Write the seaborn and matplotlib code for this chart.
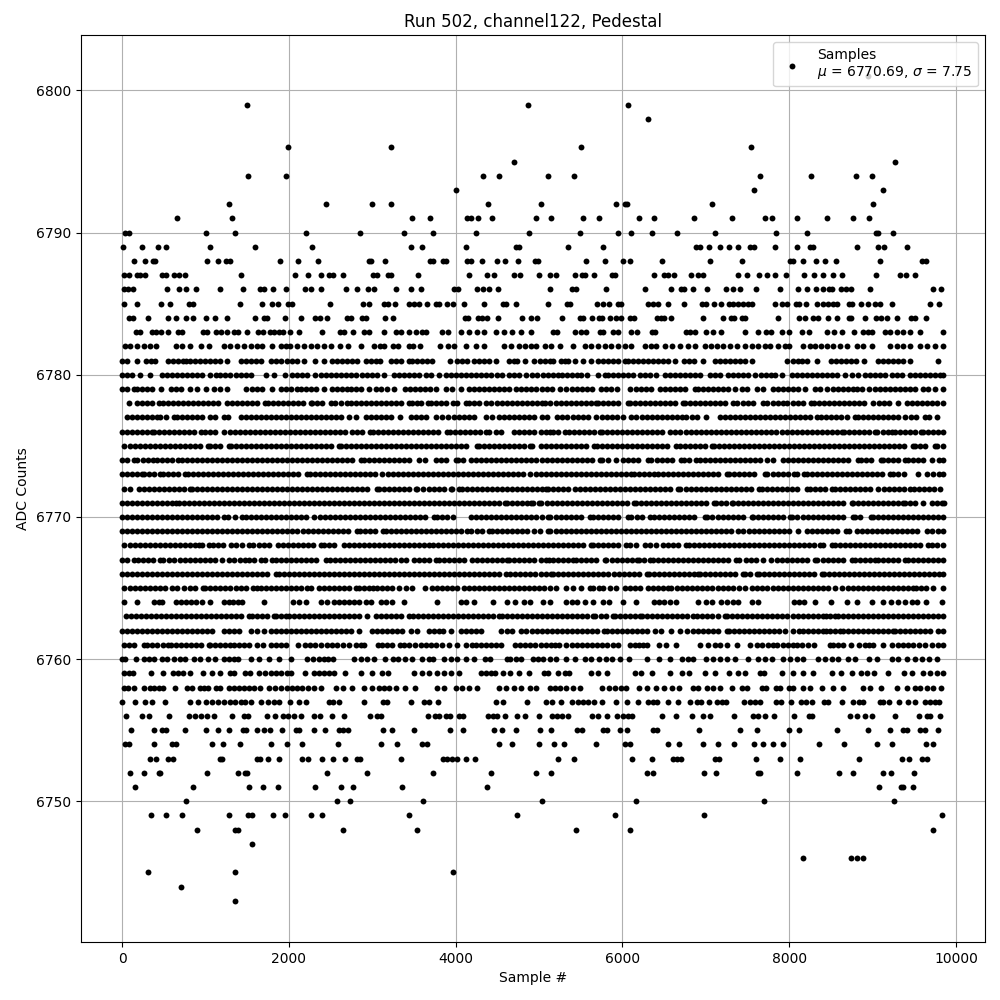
import matplotlib
matplotlib.use("Agg")
import matplotlib.pyplot as plt
import pandas as pd
import seaborn as sns

# sample numbers, one list per ADC level
s_6743 = [1352]
s_6744 = [704]
s_6745 = [308, 1352, 3968]
s_6746 = [8168, 8744, 8816, 8888]
s_6747 = [1556]
s_6748 = [896, 1352, 1388, 2648, 3536, 5444, 6092, 9728]
s_6749 = [344, 524, 716, 1280, 1508, 1556, 1808, 1952, 2264, 2396, 3440, 4736, 5912, 6980, 9836]
s_6750 = [764, 2576, 2732, 3608, 5036, 6164, 7700, 9260]
s_6751 = [152, 848, 1520, 1688, 1868, 2312, 2624, 2768, 3356, 4376, 9080, 9344, 9368, 9488]
s_6752 = [92, 260, 440, 460, 1016, 1388, 1472, 1500, 2456, 2936, 3728, 4424, 4964, 5144, 6292, 6368, 6980, 7124, 7628, 7652, 8096, 8600, 8768, 9128, 9224, 9500]
s_6753 = [332, 404, 548, 608, 1172, 1196, 1616, 1652, 1748, 1880, 2156, 2228, 2396, 2528, 2672, 2816, 2852, 3344, 3848, 3900, 3960, 4020, 4124, 4232, 5228, 5420, 6116, 6356, 6608, 6656, 6704, 7112, 7160, 7604, 7892, 8132, 8840, 9356, 9440, 9596, 9656]
s_6754 = [32, 80, 380, 596, 644, 1076, 1208, 1412, 1784, 1976, 2156, 2588, 3104, 3296, 3596, 3656, 4520, 4676, 5000, 5180, 5300, 5684, 6032, 6092, 6548, 6680, 6968, 7148, 7340, 7580, 7688, 7808, 7928, 8360, 8660, 9056, 9236, 9644, 9728]
s_6755 = [104, 380, 476, 524, 752, 1004, 1148, 1280, 1448, 1484, 1616, 1700, 1772, 1916, 2084, 2120, 2300, 2432, 2600, 2648, 2708, 3128, 3236, 3500, 3932, 4088, 4460, 4556, 4724, 5012, 5144, 5456, 5516, 5768, 5816, 5972, 6056, 6368, 6416, 6920, 7412, 7616, 8000, 8120, 8576, 8948, 9212, 9368, 9416, 9572, 9632, 9788]
s_6756 = [44, 236, 320, 560, 800, 872, 944, 1016, 1100, 1316, 1460, 1508, 1732, 1832, 1928, 1988, 2060, 2140, 2300, 2372, 2516, 2660, 2972, 3056, 3104, 3668, 3752, 3800, 3884, 3932, 4040, 4088, 4388, 4448, 4496, 4592, 4736, 4832, 5000, 5156, 5216, 5276, 5348, 5636, 5708, 5820, 5936, 6008, 6068, 6116, 6476, 6644, 6836, 6968, 7052, 7340, 7568, 7628, 7712, 7820, 8060, 8240, 8276, 8732, 8816, 8912, 8996, 9272, 9560, 9656, 9692, 9812]
s_6757 = [0, 152, 272, 356, 512, 812, 908, 1004, 1076, 1148, 1220, 1292, 1352, 1424, 1472, 1544, 1664, 1748, 1820, 1880, 2012, 2120, 2204, 2480, 2528, 2600, 2900, 3128, 3176, 3464, 3620, 3680, 3788, 4484, 4568, 4856, 5084, 5156, 5264, 5396, 5468, 5528, 5588, 5660, 5756, 5924, 6056, 6188, 6308, 6368, 6416, 6548, 6668, 6812, 6896, 6944, 7040, 7136, 7196, 7244, 7460, 7532, 7592, 7652, 7844, 7904, 8024, 8144, 8204, 8276, 8420, 8468, 8636, 8768, 8840, 8888, 9092, 9128, 9200, 9312, 9428, 9512, 9632, 9692, 9752, 9800]
s_6758 = [20, 68, 140, 260, 332, 380, 440, 488, 632, 776, 836, 932, 980, 1028, 1124, 1172, 1280, 1340, 1400, 1460, 1520, 1580, 1652, 1760, 1832, 1900, 1980, 2040, 2100, 2160, 2228, 2300, 2380, 2560, 2652, 2760, 2900, 3000, 3080, 3140, 3200, 3284, 3392, 3512, 3780, 3860, 4000, 4080, 4160, 4260, 4520, 4600, 4700, 4780, 4888, 4968, 5128, 5188, 5256, 5324, 5408, 5492, 5756, 5840, 5912, 5984, 6044, 6200, 6296, 6404, 6500, 6592, 6680, 6848, 6908, 7016, 7088, 7172, 7316, 7436, 7488, 7676, 7724, 7844, 7892, 8000, 8048, 8168, 8248, 8392, 8528, 8648, 8888, 8968, 9104, 9296, 9408, 9508, 9568, 9648, 9728, 9816]
s_6759 = [20, 80, 128, 344, 488, 608, 668, 732, 812, 968, 1076, 1172, 1292, 1340, 1472, 1532, 1640, 1712, 1780, 1840, 1900, 1980, 2028, 2192, 2300, 2360, 2420, 2480, 2540, 2672, 2864, 3000, 3116, 3188, 3500, 3600, 3680, 3780, 3860, 3940, 4040, 4300, 4360, 4420, 4472, 4568, 4652, 4760, 4880, 5060, 5108, 5228, 5312, 5360, 5624, 5708, 5816, 6152, 6228, 6356, 6572, 6716, 6800, 6992, 7108, 7280, 7388, 7472, 7652, 7700, 7916, 8048, 8168, 8288, 8516, 8624, 8756, 8856, 8928, 9020, 9188, 9380, 9468, 9608, 9688, 9768, 9840]
s_6760 = [0, 40, 164, 260, 320, 380, 480, 540, 620, 692, 752, 860, 940, 1028, 1112, 1220, 1280, 1340, 1388, 1540, 1640, 1760, 1880, 2020, 2212, 2288, 2360, 2420, 2468, 2528, 2780, 2860, 2940, 3020, 3152, 3248, 3308, 3392, 3472, 3596, 3680, 3728, 3860, 3940, 4020, 4120, 4220, 4352, 4412, 4612, 4652, 4724, 4784, 4928, 4988, 5048, 5128, 5200, 5328, 5428, 5548, 5628, 5720, 5808, 5876, 5968, 6080, 6296, 6436, 6572, 6716, 6788, 6848, 7008, 7088, 7168, 7248, 7348, 7504, 7628, 7708, 7788, 7928, 8008, 8088, 8160, 8348, 8428, 8508, 8588, 8708, 8792, 8960, 9056, 9228, 9308, 9408, 9508, 9588, 9680, 9776]
s_6761 = [28, 88, 148, 260, 300, 360, 420, 490, 548, 588, 650, 710, 770, 830, 890, 950, 1040, 1060, 1120, 1180, 1240, 1300, 1340, 1400, 1460, 1520, 1612, 1692, 1788, 1850, 1910, 1960, 2108, 2188, 2250, 2310, 2380, 2452, 2520, 2580, 2650, 2720, 2800, 2860, 2900, 3068, 3120, 3180, 3240, 3332, 3380, 3440, 3508, 3580, 3640, 3700, 3770, 3840, 3920, 4020, 4120, 4200, 4240, 4300, 4360, 4420, 4480, 4548, 4708, 4770, 4830, 4890, 4950, 5020, 5080, 5140, 5190, 5240, 5328, 5390, 5450, 5510, 5570, 5630, 5690, 5750, 5810, 5888, 5948, 6088, 6150, 6200, 6248, 6296, 6440, 6528, 6648, 6928, 7028, 7108, 7170, 7248, 7368, 7528, 7608, 7670, 7740, 7800, 7856, 7920, 7980, 8048, 8088, 8150, 8220, 8296, 8488, 8528, 8588, 8650, 8736, 8840, 8908, 8960, 9008, 9120, 9236, 9300, 9360, 9420, 9490, 9556, 9628, 9708, 9788, 9850]
s_6762 = [0, 60, 120, 180, 240, 300, 360, 420, 480, 540, 600, 660, 720, 780, 840, 900, 960, 1020, 1080, 1220, 1280, 1340, 1400, 1548, 1620, 1700, 1788, 1850, 1910, 1970, 2030, 2090, 2150, 2210, 2270, 2330, 2390, 2450, 2510, 2570, 2630, 2690, 2750, 2840, 3000, 3060, 3120, 3180, 3240, 3300, 3360, 3460, 3540, 3680, 3740, 3800, 3852, 3940, 4060, 4120, 4180, 4240, 4308, 4548, 4620, 4680, 4780, 4840, 4920, 4980, 5030, 5090, 5150, 5210, 5270, 5330, 5390, 5450, 5510, 5570, 5630, 5690, 5776, 5816, 5880, 5940, 6000, 6060, 6120, 6180, 6240, 6300, 6388, 6468, 6588, 6696, 6770, 6848, 6908, 6970, 7030, 7090, 7150, 7248, 7280, 7336, 7400, 7460, 7520, 7580, 7640, 7700, 7760, 7820, 7880, 7948, 8048, 8120, 8160, 8220, 8280, 8340, 8408, 8440, 8488, 8550, 8608, 8648, 8710, 8770, 8830, 8890, 8950, 9010, 9070, 9130, 9190, 9248, 9268, 9330, 9390, 9450, 9510, 9570, 9630, 9690, 9788, 9848]
s_6763 = [52, 110, 170, 230, 290, 350, 410, 470, 530, 590, 650, 710, 770, 830, 890, 950, 1010, 1070, 1130, 1190, 1250, 1310, 1370, 1430, 1520, 1560, 1620, 1680, 1740, 1820, 1840, 1900, 1960, 2000, 2060, 2120, 2180, 2240, 2300, 2360, 2420, 2480, 2540, 2600, 2660, 2720, 2780, 2840, 2940, 3040, 3108, 3170, 3230, 3290, 3350, 3440, 3492, 3550, 3610, 3670, 3730, 3790, 3850, 3910, 3970, 4030, 4090, 4150, 4210, 4270, 4330, 4390, 4450, 4520, 4560, 4620, 4680, 4740, 4800, 4860, 4920, 4980, 5040, 5100, 5160, 5220, 5280, 5340, 5400, 5460, 5520, 5580, 5648, 5676, 5740, 5800, 5888, 5908, 5970, 6030, 6090, 6150, 6208, 6240, 6300, 6360, 6420, 6480, 6540, 6600, 6660, 6720, 6780, 6848, 6900, 6960, 7020, 7080, 7140, 7228, 7248, 7310, 7370, 7430, 7490, 7550, 7610, 7670, 7730, 7790, 7850, 7910, 7970, 8040, 8100, 8160, 8220, 8280, 8340, 8408, 8440, 8490, 8548, 8588, 8650, 8710, 8770, 8830, 8890, 8950, 9010, 9070, 9130, 9190, 9250, 9310, 9370, 9430, 9490, 9550, 9610, 9670, 9730, 9790, 9850]
s_6764 = [20, 180, 380, 440, 480, 652, 710, 770, 830, 890, 960, 1052, 1220, 1280, 1332, 1390, 1440, 1700, 2052, 2120, 2208, 2388, 2460, 2540, 2600, 2660, 2720, 2780, 2840, 2920, 2988, 3100, 3170, 3240, 3380, 3780, 4060, 4120, 4220, 4448, 4620, 4708, 4820, 4892, 5048, 5128, 5328, 5390, 5450, 5548, 5648, 5768, 5840, 6008, 6168, 6376, 6440, 6500, 6570, 6648, 6908, 7008, 7080, 7176, 7256, 7320, 7388, 7548, 7628, 8060, 8120, 8176, 8312, 8496, 8696, 8808, 8988, 9120, 9216, 9308, 9388, 9468, 9528, 9636, 9828]
s_6765 = [28, 90, 150, 210, 270, 330, 390, 450, 510, 600, 660, 748, 810, 870, 972, 1000, 1060, 1120, 1180, 1240, 1300, 1360, 1420, 1480, 1572, 1612, 1670, 1730, 1790, 1850, 1910, 1970, 2030, 2090, 2150, 2220, 2260, 2360, 2420, 2480, 2540, 2600, 2660, 2720, 2800, 2840, 2900, 2960, 3012, 3060, 3120, 3180, 3240, 3320, 3400, 3480, 3628, 3720, 3772, 3840, 3900, 3960, 4020, 4100, 4160, 4220, 4280, 4340, 4400, 4460, 4520, 4580, 4640, 4700, 4760, 4820, 4880, 4940, 5000, 5060, 5130, 5200, 5320, 5408, 5508, 5608, 5648, 5720, 5768, 5856, 5920, 6028, 6088, 6150, 6208, 6308, 6370, 6430, 6490, 6548, 6588, 6650, 6710, 6770, 6830, 6890, 6950, 7010, 7070, 7148, 7208, 7270, 7330, 7400, 7468, 7548, 7608, 7668, 7736, 7800, 7860, 7920, 7980, 8048, 8100, 8160, 8228, 8280, 8340, 8400, 8470, 8548, 8636, 8708, 8770, 8830, 8890, 8950, 9010, 9070, 9130, 9190, 9250, 9310, 9370, 9430, 9488, 9520, 9580, 9640, 9728, 9848]
s_6766 = [0, 60, 120, 180, 240, 300, 360, 420, 480, 540, 600, 660, 720, 780, 840, 900, 960, 1020, 1080, 1140, 1200, 1260, 1320, 1380, 1440, 1500, 1560, 1620, 1680, 1740, 1840, 1880, 1940, 2000, 2060, 2120, 2180, 2240, 2300, 2360, 2420, 2480, 2540, 2600, 2660, 2720, 2780, 2840, 2900, 2960, 3020, 3080, 3140, 3200, 3260, 3320, 3380, 3440, 3500, 3560, 3620, 3680, 3740, 3800, 3860, 3920, 3980, 4040, 4100, 4160, 4220, 4280, 4340, 4400, 4460, 4520, 4600, 4652, 4710, 4770, 4830, 4890, 4950, 5020, 5080, 5148, 5168, 5230, 5290, 5350, 5410, 5470, 5530, 5590, 5650, 5710, 5770, 5828, 5896, 5960, 6020, 6080, 6140, 6200, 6296, 6320, 6380, 6440, 6500, 6560, 6620, 6680, 6740, 6800, 6860, 6908, 6928, 6990, 7050, 7110, 7170, 7230, 7290, 7350, 7448, 7468, 7530, 7608, 7640, 7700, 7760, 7820, 7880, 7940, 8000, 8060, 8120, 8180, 8240, 8300, 8388, 8416, 8480, 8540, 8600, 8660, 8720, 8780, 8840, 8900, 8960, 9020, 9080, 9140, 9200, 9260, 9320, 9380, 9440, 9500, 9560, 9620, 9680, 9740, 9800, 9850]
s_6767 = [0, 60, 140, 188, 250, 310, 370, 460, 492, 560, 620, 700, 760, 820, 880, 940, 1000, 1060, 1120, 1200, 1280, 1340, 1412, 1472, 1520, 1580, 1660, 1708, 1800, 1840, 1900, 1960, 2020, 2080, 2140, 2200, 2260, 2320, 2440, 2492, 2550, 2610, 2670, 2730, 2790, 2850, 2910, 2970, 3030, 3090, 3150, 3210, 3270, 3340, 3400, 3500, 3560, 3620, 3680, 3760, 3800, 3860, 3920, 3980, 4040, 4100, 4200, 4252, 4310, 4370, 4430, 4490, 4550, 4620, 4640, 4700, 4760, 4820, 4880, 4940, 5020, 5080, 5120, 5168, 5230, 5290, 5350, 5408, 5440, 5500, 5560, 5620, 5680, 5788, 5808, 5870, 5930, 5990, 6050, 6110, 6176, 6200, 6260, 6336, 6368, 6430, 6490, 6550, 6610, 6670, 6730, 6790, 6850, 6910, 6970, 7030, 7090, 7150, 7210, 7270, 7360, 7400, 7480, 7536, 7600, 7688, 7776, 7848, 7910, 7970, 8030, 8090, 8150, 8210, 8308, 8336, 8400, 8460, 8520, 8580, 8640, 8748, 8788, 8850, 8910, 8970, 9028, 9068, 9130, 9190, 9250, 9310, 9388, 9420, 9480, 9540, 9600, 9660, 9720, 9780, 9840]
s_6768 = [28, 90, 150, 210, 270, 330, 390, 450, 510, 570, 630, 690, 750, 810, 870, 920, 960, 1040, 1088, 1148, 1210, 1308, 1360, 1440, 1520, 1572, 1640, 1700, 1760, 1868, 1932, 1990, 2050, 2110, 2170, 2230, 2290, 2380, 2420, 2480, 2540, 2660, 2720, 2780, 2840, 2900, 2960, 3020, 3080, 3140, 3200, 3260, 3320, 3380, 3440, 3500, 3560, 3620, 3680, 3732, 3790, 3850, 3910, 3970, 4030, 4090, 4150, 4210, 4270, 4330, 4390, 4450, 4510, 4570, 4630, 4690, 4750, 4810, 4870, 4930, 4990, 5050, 5110, 5170, 5230, 5290, 5350, 5410, 5470, 5530, 5628, 5648, 5710, 5770, 5830, 5890, 5950, 6040, 6096, 6160, 6268, 6328, 6408, 6488, 6550, 6610, 6670, 6768, 6800, 6860, 6920, 6980, 7040, 7100, 7160, 7220, 7280, 7340, 7400, 7460, 7520, 7580, 7640, 7700, 7760, 7820, 7880, 7940, 8000, 8060, 8120, 8180, 8240, 8300, 8368, 8408, 8508, 8548, 8610, 8670, 8730, 8790, 8850, 8910, 8970, 9030, 9090, 9150, 9210, 9270, 9330, 9390, 9450, 9510, 9570, 9668, 9708, 9770, 9848]
s_6769 = [0, 60, 120, 180, 240, 300, 360, 420, 480, 540, 600, 660, 720, 780, 840, 900, 960, 1020, 1080, 1140, 1200, 1260, 1320, 1380, 1440, 1500, 1560, 1620, 1680, 1740, 1800, 1860, 1920, 1980, 2040, 2100, 2172, 2230, 2290, 2350, 2410, 2470, 2530, 2590, 2650, 2710, 2820, 2852, 2910, 2970, 3030, 3132, 3164, 3230, 3290, 3350, 3410, 3470, 3530, 3590, 3650, 3710, 3770, 3830, 3890, 3950, 4010, 4070, 4140, 4188, 4250, 4310, 4400, 4440, 4500, 4560, 4620, 4680, 4740, 4800, 4860, 4940, 5008, 5108, 5136, 5200, 5260, 5320, 5380, 5440, 5500, 5560, 5620, 5680, 5740, 5800, 5860, 5920, 5980, 6040, 6100, 6160, 6220, 6280, 6340, 6400, 6460, 6520, 6580, 6640, 6700, 6760, 6820, 6880, 6940, 7000, 7060, 7120, 7180, 7240, 7300, 7388, 7448, 7520, 7580, 7640, 7700, 7760, 7820, 7880, 7940, 8000, 8108, 8208, 8270, 8330, 8390, 8450, 8510, 8570, 8676, 8716, 8816, 8868, 8930, 8990, 9050, 9110, 9170, 9230, 9290, 9350, 9410, 9470, 9530, 9648, 9708, 9788, 9850]
s_6770 = [0, 60, 120, 180, 240, 300, 360, 420, 480, 540, 600, 660, 720, 780, 840, 900, 960, 1020, 1080, 1140, 1220, 1268, 1350, 1440, 1480, 1540, 1600, 1660, 1720, 1780, 1840, 1900, 1960, 2020, 2080, 2140, 2200, 2300, 2372, 2430, 2490, 2550, 2610, 2670, 2730, 2790, 2850, 2910, 2970, 3030, 3090, 3150, 3210, 3270, 3330, 3390, 3450, 3510, 3570, 3630, 3740, 3772, 3840, 3900, 3972, 4180, 4240, 4300, 4360, 4420, 4480, 4540, 4600, 4660, 4720, 4780, 4840, 4900, 4960, 5030, 5108, 5136, 5200, 5260, 5320, 5380, 5440, 5500, 5608, 5648, 5710, 5770, 5830, 5890, 5950, 6068, 6108, 6170, 6230, 6328, 6376, 6440, 6500, 6560, 6620, 6680, 6740, 6800, 6860, 6988, 7016, 7080, 7140, 7200, 7260, 7320, 7380, 7440, 7548, 7568, 7630, 7690, 7750, 7810, 7870, 7930, 8008, 8036, 8088, 8160, 8228, 8290, 8350, 8410, 8470, 8530, 8590, 8650, 8768, 8788, 8850, 8976, 9008, 9070, 9130, 9190, 9250, 9310, 9370, 9430, 9490, 9550, 9610, 9670, 9730, 9790, 9850]
s_6771 = [0, 60, 120, 180, 240, 300, 360, 420, 480, 540, 600, 648, 680, 740, 800, 860, 920, 980, 1040, 1100, 1160, 1220, 1280, 1340, 1400, 1460, 1520, 1580, 1640, 1700, 1760, 1820, 1880, 1940, 2000, 2060, 2120, 2180, 2240, 2300, 2360, 2420, 2480, 2540, 2600, 2660, 2720, 2780, 2840, 2900, 2960, 3020, 3080, 3140, 3200, 3260, 3320, 3380, 3440, 3500, 3560, 3620, 3680, 3740, 3800, 3860, 3920, 3980, 4040, 4100, 4160, 4220, 4280, 4340, 4400, 4460, 4520, 4592, 4620, 4680, 4740, 4800, 4860, 4908, 4932, 5000, 5028, 5090, 5150, 5210, 5270, 5330, 5390, 5450, 5510, 5570, 5630, 5690, 5750, 5810, 5870, 5930, 5990, 6050, 6136, 6160, 6220, 6280, 6340, 6400, 6460, 6520, 6580, 6640, 6700, 6760, 6820, 6880, 6940, 7000, 7096, 7120, 7180, 7240, 7308, 7328, 7390, 7450, 7510, 7570, 7630, 7690, 7750, 7810, 7870, 7930, 7990, 8050, 8110, 8170, 8230, 8290, 8350, 8410, 8470, 8530, 8590, 8650, 8748, 8760, 8820, 8880, 8940, 9000, 9060, 9120, 9180, 9240, 9300, 9360, 9388, 9450, 9510, 9600, 9708, 9770, 9830, 9855]
s_6772 = [20, 90, 200, 260, 320, 380, 440, 500, 560, 620, 680, 740, 812, 840, 900, 960, 1020, 1080, 1140, 1200, 1260, 1320, 1380, 1440, 1500, 1560, 1620, 1680, 1740, 1800, 1860, 1920, 1980, 2040, 2100, 2160, 2220, 2280, 2340, 2400, 2460, 2520, 2580, 2640, 2700, 2760, 2820, 2880, 2940, 3052, 3080, 3140, 3200, 3260, 3320, 3380, 3440, 3520, 3540, 3612, 3680, 3740, 3800, 3860, 3940, 3960, 4040, 4080, 4140, 4200, 4260, 4320, 4380, 4440, 4500, 4560, 4620, 4680, 4740, 4800, 4860, 4920, 4980, 5040, 5088, 5108, 5170, 5230, 5290, 5350, 5436, 5488, 5550, 5610, 5670, 5730, 5790, 5850, 5910, 5970, 6030, 6090, 6150, 6210, 6270, 6330, 6390, 6450, 6510, 6570, 6668, 6696, 6760, 6820, 6880, 6940, 7000, 7060, 7120, 7180, 7240, 7300, 7360, 7420, 7480, 7540, 7640, 7668, 7730, 7790, 7850, 7910, 7970, 8030, 8090, 8208, 8248, 8310, 8370, 8430, 8508, 8548, 8610, 8670, 8730, 8790, 8850, 8910, 8970, 9068, 9136, 9200, 9260, 9320, 9380, 9448, 9496, 9560, 9620, 9680, 9740, 9808]
s_6773 = [0, 60, 120, 180, 240, 260, 320, 380, 460, 492, 550, 610, 670, 760, 788, 850, 910, 970, 1030, 1090, 1150, 1210, 1270, 1330, 1390, 1450, 1510, 1570, 1630, 1690, 1750, 1810, 1870, 1930, 1990, 2050, 2110, 2220, 2252, 2310, 2370, 2430, 2490, 2550, 2610, 2670, 2730, 2790, 2850, 2910, 2970, 3030, 3120, 3188, 3252, 3310, 3370, 3430, 3490, 3550, 3610, 3670, 3730, 3790, 3850, 3910, 3970, 4030, 4090, 4150, 4210, 4270, 4330, 4390, 4450, 4510, 4570, 4630, 4690, 4750, 4810, 4888, 4960, 5020, 5080, 5140, 5200, 5260, 5320, 5380, 5440, 5500, 5560, 5620, 5680, 5740, 5800, 5860, 5920, 5980, 6040, 6108, 6136, 6200, 6260, 6320, 6376, 6428, 6490, 6550, 6610, 6670, 6730, 6790, 6850, 6910, 6970, 7030, 7090, 7150, 7248, 7280, 7340, 7400, 7460, 7520, 7580, 7708, 7736, 7800, 7860, 7920, 7980, 8056, 8088, 8176, 8208, 8270, 8330, 8390, 8450, 8510, 8570, 8630, 8690, 8750, 8810, 8870, 8930, 8990, 9050, 9110, 9208, 9248, 9300, 9376, 9548, 9648, 9728, 9800, 9840]
s_6774 = [0, 60, 148, 180, 250, 310, 372, 420, 480, 540, 600, 672, 720, 780, 840, 900, 960, 1020, 1080, 1140, 1200, 1260, 1320, 1380, 1440, 1500, 1560, 1620, 1680, 1740, 1800, 1860, 1920, 1980, 2040, 2100, 2160, 2220, 2280, 2340, 2400, 2460, 2520, 2580, 2640, 2700, 2760, 2868, 2900, 2960, 3020, 3080, 3140, 3200, 3260, 3320, 3380, 3440, 3560, 3632, 3760, 3820, 3880, 4000, 4028, 4090, 4180, 4240, 4300, 4360, 4420, 4480, 4540, 4600, 4660, 4720, 4780, 4840, 4900, 4960, 5030, 5090, 5150, 5210, 5270, 5330, 5390, 5450, 5510, 5570, 5630, 5728, 5760, 5830, 5920, 6008, 6070, 6130, 6190, 6308, 6348, 6410, 6470, 6530, 6590, 6708, 6736, 6800, 6888, 6928, 6990, 7050, 7110, 7170, 7230, 7290, 7350, 7410, 7470, 7530, 7590, 7650, 7736, 7808, 7928, 7990, 8050, 8110, 8170, 8230, 8290, 8350, 8410, 8470, 8530, 8590, 8650, 8710, 8828, 8860, 8920, 8980, 9096, 9128, 9190, 9250, 9310, 9388, 9428, 9490, 9550, 9610, 9708, 9800, 9850]
s_6775 = [28, 92, 150, 210, 270, 330, 390, 450, 510, 570, 630, 690, 750, 810, 870, 930, 1028, 1052, 1110, 1170, 1280, 1308, 1370, 1430, 1490, 1550, 1610, 1670, 1730, 1790, 1850, 1910, 1970, 2030, 2090, 2150, 2210, 2270, 2330, 2390, 2450, 2510, 2600, 2628, 2690, 2750, 2810, 2870, 2930, 2990, 3050, 3110, 3170, 3230, 3290, 3350, 3410, 3470, 3530, 3590, 3650, 3710, 3770, 3830, 3890, 3950, 4010, 4070, 4130, 4252, 4280, 4340, 4400, 4460, 4520, 4580, 4640, 4700, 4760, 4820, 4892, 4920, 5020, 5080, 5140, 5200, 5260, 5320, 5380, 5440, 5500, 5560, 5656, 5696, 5760, 5820, 5880, 5940, 6000, 6060, 6120, 6180, 6240, 6300, 6360, 6420, 6480, 6540, 6648, 6688, 6750, 6810, 6870, 6930, 6990, 7080, 7100, 7160, 7220, 7280, 7340, 7400, 7460, 7520, 7580, 7640, 7700, 7760, 7820, 7880, 7940, 8000, 8060, 8120, 8180, 8240, 8300, 8360, 8420, 8480, 8540, 8600, 8660, 8720, 8780, 8840, 8900, 8960, 9020, 9080, 9140, 9200, 9260, 9320, 9380, 9488, 9508, 9570, 9630, 9748, 9776, 9850]
s_6776 = [0, 60, 120, 180, 240, 300, 360, 380, 440, 500, 560, 620, 680, 740, 800, 860, 948, 1000, 1060, 1120, 1220, 1292, 1350, 1410, 1470, 1530, 1590, 1650, 1710, 1770, 1830, 1890, 1950, 2010, 2070, 2130, 2190, 2250, 2310, 2370, 2430, 2490, 2550, 2610, 2670, 2760, 2820, 2880, 2972, 3012, 3070, 3130, 3190, 3250, 3310, 3370, 3430, 3490, 3550, 3610, 3670, 3730, 3790, 3900, 3932, 3990, 4050, 4110, 4170, 4230, 4290, 4360, 4400, 4480, 4548, 4700, 4760, 4820, 4880, 4940, 5020, 5080, 5136, 5168, 5230, 5308, 5360, 5420, 5480, 5540, 5600, 5660, 5736, 5760, 5820, 5880, 5940, 6000, 6060, 6120, 6180, 6240, 6300, 6360, 6420, 6480, 6576, 6636, 6696, 6760, 6820, 6880, 6940, 7000, 7060, 7120, 7180, 7240, 7300, 7360, 7420, 7480, 7540, 7600, 7660, 7720, 7780, 7840, 7908, 7968, 8030, 8090, 8150, 8210, 8270, 8330, 8390, 8450, 8510, 8570, 8628, 8660, 8720, 8780, 8840, 8900, 8960, 9028, 9056, 9120, 9180, 9228, 9268, 9330, 9390, 9450, 9510, 9576, 9608, 9670, 9730, 9790, 9850]
s_6777 = [60, 120, 180, 240, 300, 360, 420, 460, 530, 620, 660, 720, 780, 840, 900, 960, 1052, 1120, 1220, 1268, 1420, 1480, 1540, 1600, 1660, 1720, 1780, 1840, 1900, 1960, 2020, 2080, 2140, 2200, 2260, 2320, 2380, 2440, 2500, 2560, 2620, 2720, 2800, 2920, 2980, 3040, 3100, 3160, 3220, 3332, 3468, 3530, 3590, 3650, 3760, 3840, 3908, 3980, 4040, 4100, 4160, 4220, 4360, 4440, 4520, 4580, 4640, 4700, 4760, 4820, 4880, 4940, 5030, 5096, 5216, 5280, 5340, 5408, 5468, 5530, 5590, 5688, 5760, 5820, 5880, 5936, 6008, 6108, 6168, 6230, 6290, 6350, 6410, 6470, 6530, 6590, 6650, 6720, 6768, 6830, 6890, 7008, 7168, 7230, 7290, 7350, 7410, 7470, 7530, 7590, 7650, 7710, 7770, 7830, 7890, 7950, 8010, 8070, 8130, 8190, 8250, 8328, 8376, 8440, 8500, 8560, 8620, 8688, 8788, 8828, 8880, 8940, 9000, 9060, 9120, 9180, 9240, 9300, 9388, 9456, 9520, 9628, 9680, 9768]
s_6778 = [80, 180, 240, 300, 360, 440, 492, 550, 610, 670, 730, 790, 850, 910, 970, 1030, 1090, 1150, 1260, 1320, 1380, 1440, 1500, 1560, 1620, 1708, 1748, 1810, 1870, 1930, 1990, 2050, 2110, 2170, 2260, 2280, 2340, 2400, 2508, 2548, 2620, 2692, 2750, 2810, 2870, 2930, 2990, 3050, 3110, 3170, 3230, 3290, 3350, 3440, 3480, 3532, 3590, 3668, 3708, 3770, 3830, 3890, 3972, 4020, 4120, 4160, 4220, 4280, 4360, 4420, 4492, 4550, 4610, 4670, 4730, 4790, 4850, 4910, 4970, 5040, 5068, 5136, 5200, 5260, 5320, 5380, 5440, 5500, 5560, 5620, 5680, 5708, 5770, 5830, 5890, 5950, 6068, 6088, 6150, 6210, 6270, 6330, 6390, 6450, 6510, 6570, 6630, 6728, 6748, 6810, 6870, 6930, 6990, 7050, 7110, 7170, 7230, 7328, 7376, 7440, 7500, 7560, 7688, 7736, 7800, 7860, 7928, 7976, 8040, 8100, 8160, 8260, 8300, 8360, 8420, 8480, 8540, 8600, 8660, 8720, 8780, 8840, 8900, 9008, 9080, 9140, 9200, 9308, 9408, 9470, 9530, 9590, 9650, 9710, 9770, 9848]
s_6779 = [0, 60, 140, 180, 240, 300, 360, 468, 588, 650, 710, 820, 900, 1012, 1108, 1170, 1260, 1480, 1560, 1620, 1680, 1800, 1900, 1960, 2020, 2100, 2140, 2200, 2260, 2320, 2420, 2520, 2580, 2640, 2700, 2740, 2800, 2868, 2960, 3040, 3100, 3180, 3260, 3388, 3450, 3510, 3570, 3630, 3690, 3760, 3880, 3960, 4060, 4160, 4220, 4280, 4340, 4400, 4460, 4520, 4580, 4640, 4720, 4780, 4840, 4900, 4960, 5030, 5090, 5150, 5248, 5328, 5390, 5450, 5510, 5570, 5630, 5748, 5800, 5860, 5936, 6096, 6160, 6220, 6280, 6340, 6448, 6508, 6570, 6630, 6690, 6750, 6868, 6908, 6970, 7030, 7090, 7150, 7210, 7270, 7348, 7428, 7490, 7608, 7680, 7808, 7870, 7930, 7990, 8050, 8110, 8188, 8308, 8370, 8448, 8528, 8590, 8650, 8710, 8768, 8808, 8870, 8960, 9028, 9090, 9150, 9210, 9270, 9330, 9390, 9450, 9510, 9608, 9668, 9748, 9848]
s_6780 = [0, 60, 120, 220, 332, 480, 540, 600, 660, 720, 780, 840, 900, 960, 1052, 1132, 1180, 1240, 1300, 1360, 1420, 1480, 1540, 1720, 1820, 1948, 2040, 2100, 2160, 2220, 2308, 2388, 2450, 2510, 2570, 2630, 2690, 2750, 2810, 2880, 2940, 3000, 3060, 3140, 3260, 3320, 3380, 3440, 3500, 3560, 3640, 3700, 3800, 3880, 3940, 4000, 4060, 4120, 4180, 4240, 4300, 4360, 4420, 4500, 4560, 4640, 4700, 4760, 4840, 4920, 4980, 5052, 5110, 5170, 5232, 5272, 5330, 5390, 5450, 5508, 5576, 5708, 5788, 5828, 5890, 5950, 6010, 6070, 6130, 6208, 6268, 6336, 6400, 6508, 6568, 6630, 6690, 6750, 6810, 6870, 6928, 7048, 7110, 7170, 7268, 7328, 7390, 7450, 7510, 7588, 7656, 7720, 7780, 7828, 7908, 8028, 8090, 8150, 8210, 8270, 8330, 8390, 8450, 8510, 8570, 8668, 8748, 8828, 8908, 8970, 9030, 9090, 9148, 9228, 9290, 9350, 9448, 9508, 9570, 9630, 9690, 9750, 9810, 9848]
s_6781 = [0, 60, 180, 292, 350, 400, 548, 610, 670, 730, 772, 820, 880, 940, 1000, 1060, 1120, 1180, 1260, 1420, 1480, 1540, 1600, 1668, 1780, 1840, 1900, 1980, 2040, 2100, 2180, 2308, 2420, 2520, 2580, 2640, 2700, 2760, 2820, 2920, 2980, 3040, 3092, 3220, 3280, 3340, 3440, 3480, 3540, 3600, 3660, 3712, 3932, 4020, 4080, 4140, 4220, 4280, 4340, 4400, 4488, 4640, 4700, 4740, 4832, 4940, 5008, 5068, 5128, 5168, 5268, 5310, 5348, 5432, 5528, 5628, 5708, 5768, 5828, 5888, 5948, 6028, 6068, 6130, 6190, 6250, 6310, 6370, 6430, 6490, 6550, 6628, 6736, 6800, 6860, 6968, 7108, 7170, 7230, 7290, 7350, 7410, 7470, 7548, 7976, 8040, 8100, 8148, 8216, 8328, 8496, 8560, 8620, 8680, 8740, 8800, 8900, 9068, 9130, 9188, 9248, 9310, 9370, 9448, 9788]
s_6782 = [40, 100, 180, 260, 340, 412, 644, 716, 812, 944, 1040, 1220, 1300, 1380, 1460, 1540, 1620, 1680, 1796, 1900, 1960, 2012, 2100, 2180, 2260, 2340, 2420, 2504, 2612, 2708, 2864, 3020, 3092, 3140, 3248, 3308, 3440, 3492, 3572, 3812, 3908, 3980, 4124, 4240, 4340, 4580, 4660, 4760, 4828, 4908, 4968, 5068, 5148, 5248, 5408, 5548, 5628, 5708, 5788, 5868, 5948, 6028, 6108, 6268, 6348, 6408, 6516, 6600, 6688, 6788, 6868, 6988, 7068, 7128, 7208, 7288, 7368, 7468, 7548, 7628, 7708, 7768, 7868, 7948, 8000, 8168, 8248, 8308, 8376, 8456, 8528, 8608, 8688, 8808, 8888, 8988, 9208, 9288, 9368, 9448, 9568, 9648, 9748, 9848]
s_6783 = [164, 212, 356, 404, 464, 548, 668, 716, 968, 1016, 1124, 1184, 1256, 1340, 1388, 1496, 1628, 1688, 1772, 1820, 1880, 1928, 2012, 2120, 2396, 2612, 2660, 2768, 2900, 2960, 3140, 3284, 3344, 3440, 3524, 3596, 3644, 3836, 3908, 4064, 4160, 4256, 4340, 4484, 4580, 4676, 4784, 4904, 5168, 5216, 5432, 5504, 5564, 5732, 5768, 5888, 5948, 6104, 6176, 6356, 6392, 6764, 6812, 6872, 7004, 7088, 7184, 7472, 7628, 7724, 7784, 7916, 8000, 8156, 8236, 8456, 8540, 8636, 8780, 8888, 8948, 8996, 9152, 9212, 9296, 9368, 9448, 9572, 9848]
s_6784 = [80, 128, 308, 548, 644, 764, 848, 1004, 1112, 1256, 1592, 1700, 1736, 1952, 2144, 2312, 2372, 2456, 2696, 2744, 2876, 2924, 3152, 3248, 4112, 4152, 4268, 4316, 4376, 4508, 4796, 4904, 4976, 5276, 5492, 5528, 5636, 5724, 5760, 5852, 5924, 5984, 6092, 6140, 6416, 6464, 6500, 6584, 6968, 7208, 7304, 7340, 7436, 7472, 7868, 8120, 8192, 8288, 8348, 8468, 8576, 8720, 8744, 8912, 9044, 9104, 9172, 9296, 9464, 9512, 9644]
s_6785 = [20, 180, 464, 572, 800, 848, 1412, 1676, 1796, 1868, 1988, 2036, 2492, 2888, 2960, 3140, 3188, 3276, 3440, 3500, 3560, 3656, 3764, 3800, 3896, 3968, 4100, 4340, 4568, 4604, 4724, 5108, 5336, 5372, 5696, 5768, 5840, 5948, 5984, 6308, 6368, 6428, 6548, 6740, 6956, 7004, 7100, 7184, 7280, 7328, 7388, 7448, 7508, 7556, 7832, 7908, 7976, 8084, 8120, 8204, 8336, 8408, 8468, 8528, 8576, 8720, 8756, 8864, 8948, 9032, 9092, 9236, 9692, 9800]
s_6786 = [20, 68, 128, 536, 680, 764, 884, 1172, 1448, 1652, 1700, 1808, 1964, 2192, 2264, 2384, 2684, 2816, 2948, 3020, 3284, 3464, 3584, 3980, 4028, 4256, 4328, 4400, 4508, 5132, 5396, 5444, 5804, 6272, 6584, 6704, 6740, 6848, 7016, 7244, 7328, 7408, 7604, 7892, 8108, 8216, 8324, 8408, 8480, 8516, 8624, 8684, 8744, 8972, 9728, 9824]
s_6787 = [20, 80, 180, 220, 276, 476, 524, 620, 680, 752, 1424, 2072, 2228, 2384, 2480, 2528, 2648, 3008, 3056, 3188, 3224, 3548, 4160, 4376, 4460, 4700, 4776, 5000, 5132, 5204, 5432, 5516, 5552, 5660, 5876, 5912, 6380, 6500, 6548, 6620, 6824, 6908, 6968, 7388, 7496, 7640, 7736, 7832, 7964, 8180, 8300, 8408, 8528, 8636, 9044, 9332, 9404, 9512]
s_6788 = [140, 272, 368, 392, 1016, 1148, 1244, 1292, 1892, 2108, 2348, 2960, 2988, 3152, 3692, 3728, 3848, 3884, 4136, 4184, 4316, 4496, 4592, 4748, 4948, 4988, 5564, 5792, 6008, 6092, 6476, 7052, 7436, 8012, 8048, 8168, 8324, 8432, 8564, 9092, 9596, 9644]
s_6789 = [8, 236, 428, 524, 1052, 1592, 2276, 3464, 3596, 4124, 4720, 4764, 5348, 5768, 6884, 6932, 7040, 7172, 7280, 7388, 7532, 7580, 7832, 8096, 8252, 8288, 8816, 9068, 9140, 9416]
s_6790 = [40, 80, 1004, 1352, 2204, 2852, 3380, 3728, 4244, 4880, 5492, 5948, 6104, 6356, 6656, 7112, 7844, 8216, 9044, 9068, 9248]
s_6791 = [656, 1316, 3476, 3692, 4140, 4180, 4268, 4436, 4964, 5144, 5528, 5720, 6200, 6380, 6860, 7316, 7712, 7796, 8096, 8456, 8768, 8960]
s_6792 = [1280, 2444, 2996, 3224, 4388, 5024, 5924, 6032, 6056, 7076, 9008]
s_6793 = [4004, 7580, 9128]
s_6794 = [1508, 1964, 4328, 4520, 5108, 5420, 7652, 8264, 8804, 8996]
s_6795 = [4700, 9272]
s_6796 = [1988, 3224, 5504, 7544]
s_6798 = [6308]
s_6799 = [1496, 4868, 6068]
s_6801 = [8940]

adc_levels = [6743, 6744, 6745, 6746, 6747, 6748, 6749, 6750, 6751, 6752, 6753, 6754, 6755, 6756, 6757,
              6758, 6759, 6760, 6761, 6762, 6763, 6764, 6765, 6766, 6767, 6768, 6769, 6770, 6771, 6772,
              6773, 6774, 6775, 6776, 6777, 6778, 6779, 6780, 6781, 6782, 6783, 6784, 6785, 6786, 6787,
              6788, 6789, 6790, 6791, 6792, 6793, 6794, 6795, 6796, 6798, 6799, 6801]
level_samples = [s_6743, s_6744, s_6745, s_6746, s_6747, s_6748, s_6749, s_6750, s_6751, s_6752, s_6753, s_6754,
                 s_6755, s_6756, s_6757, s_6758, s_6759, s_6760, s_6761, s_6762, s_6763, s_6764, s_6765, s_6766,
                 s_6767, s_6768, s_6769, s_6770, s_6771, s_6772, s_6773, s_6774, s_6775, s_6776, s_6777, s_6778,
                 s_6779, s_6780, s_6781, s_6782, s_6783, s_6784, s_6785, s_6786, s_6787, s_6788, s_6789, s_6790,
                 s_6791, s_6792, s_6793, s_6794, s_6795, s_6796, s_6798, s_6799, s_6801]

# one table row per sample
df = pd.DataFrame(
    [(s, lvl) for lvl, samples in zip(adc_levels, level_samples) for s in samples],
    columns=["sample", "adc"],
)

fig, ax = plt.subplots(figsize=(10, 10), dpi=100)
sns.scatterplot(
    data=df, x="sample", y="adc", color="black", marker="o", s=18, linewidth=0, zorder=2, ax=ax,
    label="Samples\n$\\mu$ = 6770.69, $\\sigma$ = 7.75",
)
ax.grid(True)
ax.set_title("Run 502, channel122, Pedestal")
ax.set_xlabel("Sample #")
ax.set_ylabel("ADC Counts")
ax.legend(loc="upper right")
fig.subplots_adjust(left=0.081, right=0.985, top=0.965, bottom=0.058)
plt.savefig("out.png")
